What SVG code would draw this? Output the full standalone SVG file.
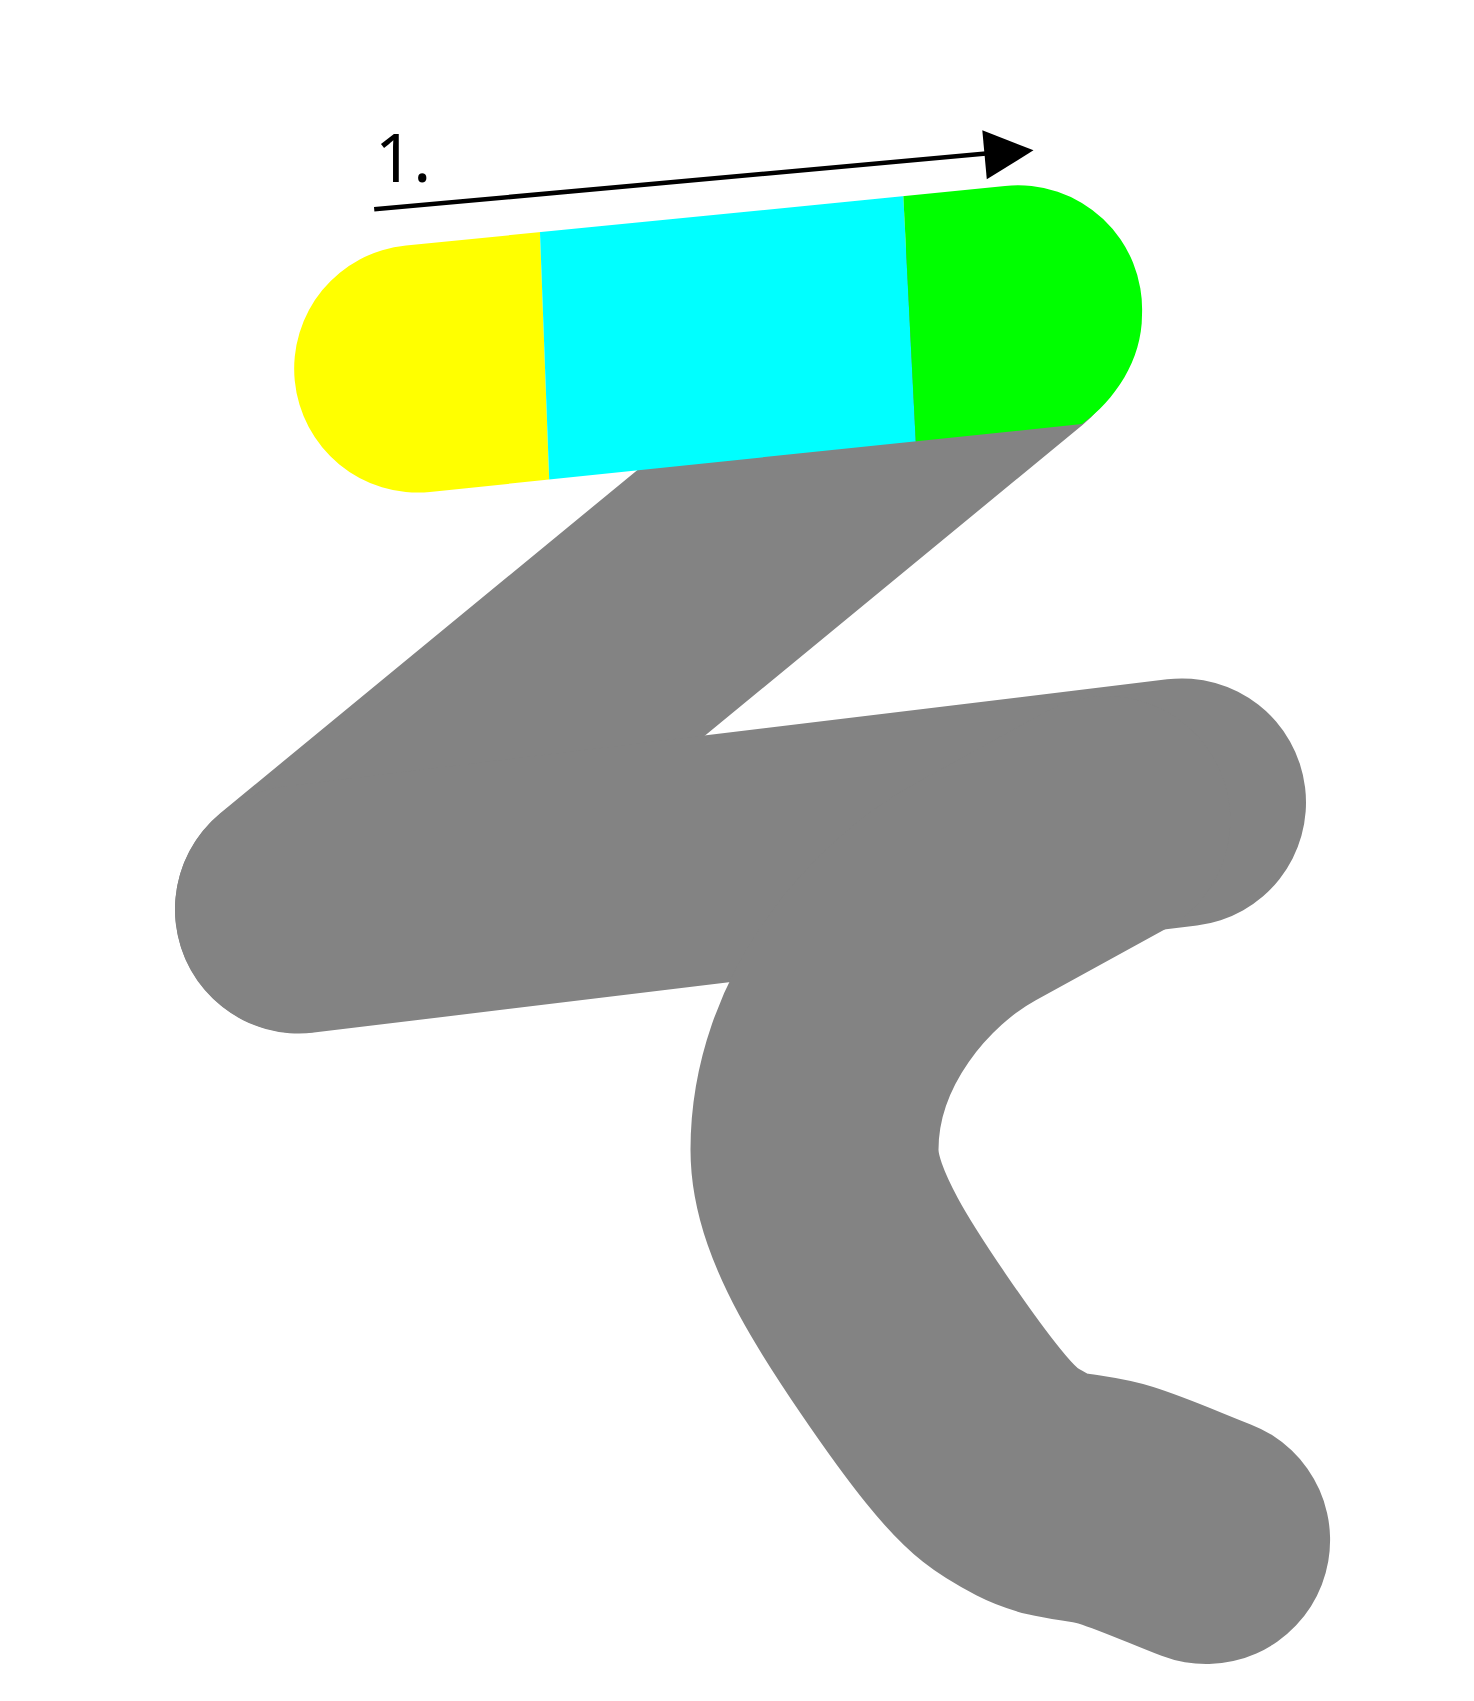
<svg xmlns="http://www.w3.org/2000/svg" width="1474" height="1701" viewBox="0 0 1474 1701">
  <style>
    .gray { fill: none; stroke: #838383; stroke-width: 248; stroke-linecap: round; stroke-linejoin: round; }
    .label { font-family: "Noto Sans", "Open Sans", "Liberation Sans", sans-serif; font-size: 67px; fill: #000; }
  </style>
  <defs>
    <clipPath id="s1clip">
      <path d="M406,245.5 L1005,186 A124,124 0 0 1 1142,315 C1142,360 1115,400 1082,424 L430,492 A123.8,123.8 0 0 1 406,245.5 Z"/>
    </clipPath>
  </defs>
  <rect width="1474" height="1701" fill="#fff"/>
  <g id="stroke2">
    <path class="gray" d="M1004,329 L299,909"/>
  </g>
  <g id="stroke3">
    <path class="gray" d="M299,909.5 L1182,802.4"/>
  </g>
  <g id="stroke4">
    <path class="gray" d="M1106.3,820 L976.1,891.5 C900,933.1 814.5,1030.4 814.5,1149.7 C814.5,1186 830.6,1223 848.2,1256 C872.9,1301.9 932,1387.4 962.9,1425.7 C993.8,1464 1008.1,1472.1 1033.6,1485.4 C1059.1,1498.6 1087.1,1496.1 1115.8,1505.2 C1144.6,1514.3 1176,1528.5 1206.1,1540.1"/>
  </g>
  <g id="stroke1" clip-path="url(#s1clip)">
    <polygon points="250,150 536.9,150 552.2,560 250,560" fill="#ffff00"/>
    <polygon points="536.9,150 901,150 921.7,560 552.2,560" fill="#00ffff"/>
    <polygon points="901,150 1200,150 1200,560 921.7,560" fill="#00ff00"/>
  </g>
  <g id="connectors">
    <line x1="374.2" y1="209.3" x2="986" y2="153.6" stroke="#000" stroke-width="4.5"/>
    <polygon points="982.3,130.2 1033.5,150.3 986.8,179.3" fill="#000"/>
  </g>
  <g id="label">
    <text class="label" x="375" y="182">1.</text>
  </g>
</svg>
